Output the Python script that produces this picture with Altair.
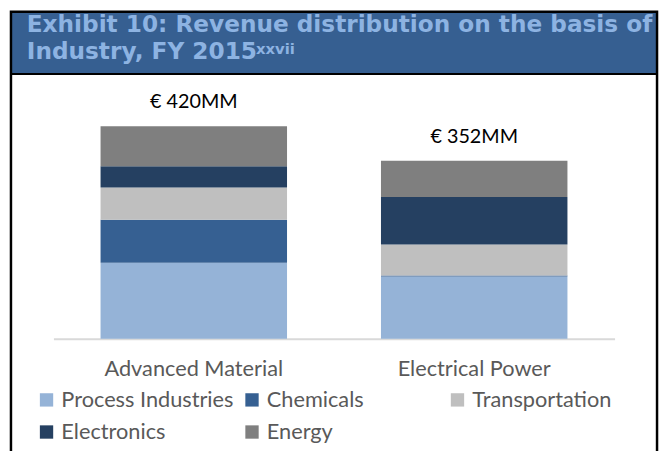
import altair as alt
import pandas as pd

# ---- data ----
categories = ["Advanced Material", "Electrical Power"]
industries = ["Process Industries", "Chemicals", "Transportation", "Electronics", "Energy"]
advanced_material = [150, 85, 64, 42, 79]
electrical_power = [123, 2, 61, 94, 72]
totals = [420, 352]
total_labels = ["€ 420MM", "€ 352MM"]
colors = ["#95B3D7", "#366092", "#BFBFBF", "#254061", "#7F7F7F"]

title_line1 = "Exhibit 10: Revenue distribution on the basis of"
title_line2 = "Industry, FY 2015"
title_sup = "xxvii"

rows = []
for cat, vals in zip(categories, [advanced_material, electrical_power]):
    for i, (ind, v) in enumerate(zip(industries, vals)):
        rows.append({"category": cat, "industry": ind, "value": v, "rank": i})
df = pd.DataFrame(rows)
tot = pd.DataFrame({"category": categories, "total": totals, "label": total_labels})
one = pd.DataFrame({"k": [0]})

W, H = 568, 215

x_scale = alt.Scale(domain=categories, paddingInner=0.335, paddingOuter=0.168)
y_scale = alt.Scale(domain=[0, 420], nice=False, zero=True)

x_axis = alt.Axis(title=None, labelAngle=0, ticks=False, tickSize=0,
                  domainColor="#D9D9D9", domainWidth=2, grid=False,
                  labelFont="Lato", labelFontSize=22, labelColor="#595959",
                  labelPadding=20, labelLimit=400)

bars = alt.Chart(df).mark_bar().encode(
    x=alt.X("category:N", scale=x_scale, axis=x_axis),
    y=alt.Y("value:Q", stack="zero", scale=y_scale, axis=None),
    color=alt.Color("industry:N",
                    scale=alt.Scale(domain=industries, range=colors),
                    legend=alt.Legend(title=None, orient="none", legendX=-18, legendY=266,
                                      direction="horizontal", columns=3, gridAlign="all",
                                      symbolType="square", symbolSize=182, symbolStrokeWidth=0,
                                      labelFont="Lato", labelFontSize=22, labelColor="#595959",
                                      labelOffset=4, columnPadding=7, rowPadding=10.5,
                                      padding=0, labelLimit=400)),
    order=alt.Order("rank:Q", sort="ascending"),
)

totals_text = alt.Chart(tot).mark_text(baseline="alphabetic", dy=-18, font="Lato",
                                       fontSize=20, color="#000000").encode(
    x=alt.X("category:N", scale=x_scale),
    y=alt.Y("total:Q", scale=y_scale, axis=None),
    text="label:N",
)

frame = alt.Chart(one).mark_rect(fill=None, stroke="#000000", strokeWidth=2.5).encode(
    x=alt.value(-43), x2=alt.value(611), y=alt.value(-116), y2=alt.value(H + 150)
)
header = alt.Chart(one).mark_rect(fill="#365F91").encode(
    x=alt.value(-42), x2=alt.value(610), y=alt.value(-115), y2=alt.value(-54)
)
header_line = alt.Chart(one).mark_rule(color="#000000", strokeWidth=2).encode(
    x=alt.value(-43), x2=alt.value(611), y=alt.value(-53)
)
t1 = alt.Chart(one).mark_text(align="left", baseline="alphabetic", font="DejaVu Sans",
                              fontWeight="bold", fontSize=23.5, color="#8DB3E2").encode(
    x=alt.value(-27), y=alt.value(-95), text=alt.value(title_line1)
)
t2 = alt.Chart(one).mark_text(align="left", baseline="alphabetic", font="DejaVu Sans",
                              fontWeight="bold", fontSize=23.5, color="#8DB3E2").encode(
    x=alt.value(-27), y=alt.value(-68), text=alt.value(title_line2)
)
t3 = alt.Chart(one).mark_text(align="left", baseline="alphabetic", font="DejaVu Sans",
                              fontWeight="bold", fontSize=15, color="#8DB3E2").encode(
    x=alt.value(205), y=alt.value(-73), text=alt.value(title_sup)
)

chart = alt.layer(header, header_line, frame, t1, t2, t3, bars, totals_text).properties(
    width=W, height=H,
    autosize=alt.AutoSizeParams(type="none"),
    padding={"left": 46, "top": 117, "right": 46, "bottom": 111},
    background="#FFFFFF",
).configure_view(stroke=None)

chart.save("out.html", embed_options={"renderer": "svg", "actions": False})
